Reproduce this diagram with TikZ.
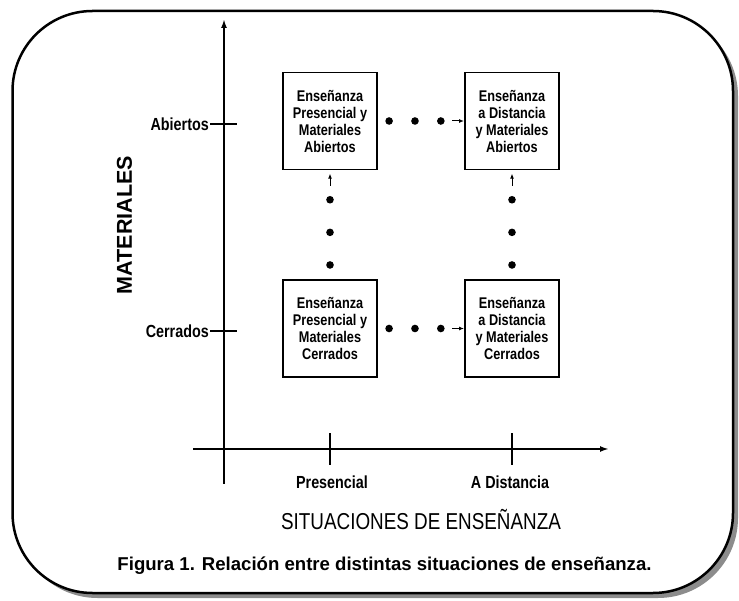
\documentclass[tikz,border=0pt]{standalone}
\usepackage{fontspec}
\setmainfont{Liberation Sans}
\newfontfamily\narrowfont[FakeStretch=0.82]{Liberation Sans}
\usepackage{tikz}
\usetikzlibrary{arrows.meta,decorations.markings}
\definecolor{sombra}{HTML}{8C8C8C}

\begin{document}
\begin{tikzpicture}[x=1pt, y=1pt,
            caja/.style={draw, line width=1.8pt, fill=white,
                    minimum width=94pt, minimum height=97pt, inner sep=0pt,
                    align=center, font=\narrowfont\bfseries\fontsize{15.5}{17}\selectfont},
            eje/.style={line width=1.8pt, -{Latex[length=9pt,width=6pt]}},
            marca/.style={line width=1.5pt},
            etiqueta/.style={font=\narrowfont\bfseries\fontsize{17.5}{20}\selectfont},
            puntos/.style={decoration={markings,
                    mark=at position 0.13 with {\fill (0,0) circle (3.8pt);},
                    mark=at position 0.43 with {\fill (0,0) circle (3.8pt);},
                    mark=at position 0.73 with {\fill (0,0) circle (3.8pt);},
                    mark=at position 0.86 with {\draw[line width=1pt, -{Latex[length=5pt,width=4pt]}] (0,0) -- (12pt,0);}},
                postaction=decorate}
        ]
        \useasboundingbox (0,0) rectangle (739,600);

        % Marco con sombra
        \fill[sombra, rounded corners=80pt] (17.5,2) rectangle (738,584);
        \draw[line width=2.5pt, fill=white, rounded corners=80pt] (12.5,7) rectangle (733,589);

        % Ejes
        \coordinate (ybot) at (224,116);
        \coordinate (ytop) at (224,581);
        \coordinate (xizq) at (193,151);
        \coordinate (xder) at (609,151);
        \draw[eje] (ybot) -- (ytop);
        \draw[eje] (xizq) -- (xder);

        % Marcas de los ejes
        \coordinate (tabi) at (210,476);
        \coordinate (tcer) at (210,269);
        \coordinate (tpre) at (330,135);
        \coordinate (tdis) at (512,135);
        \draw[marca] (tabi) -- ++(27,0);
        \draw[marca] (tcer) -- ++(27,0);
        \draw[marca] (tpre) -- ++(0,32);
        \draw[marca] (tdis) -- ++(0,32);

        \node[etiqueta, anchor=east, inner sep=1pt] (abi) at (tabi) {Abiertos};
        \node[etiqueta, anchor=east, inner sep=1pt] (cer) at (tcer) {Cerrados};
        \node[etiqueta] (pre) at (332,118) {Presencial};
        \node[etiqueta] (dis) at (510,118) {A Distancia};

        \node[rotate=90, font=\bfseries\fontsize{21.5}{26}\selectfont] (mat) at (124.5,375) {MATERIALES};
        \node[font=\narrowfont\fontsize{23}{27}\selectfont] (sit) at (421,80) {SITUACIONES DE ENSEÑANZA};
        \node[font=\bfseries\fontsize{18.6}{22}\selectfont] (fig) at (384.5,34)
        {Figura 1. Relación entre distintas situaciones de enseñanza.};

        % Cajas
        \node[caja] (pa) at (330,479)   {Enseñanza\\Presencial y\\Materiales\\Abiertos};
        \node[caja] (da) at (512,479)   {Enseñanza\\a Distancia\\y Materiales\\Abiertos};
        \node[caja] (pc) at (330,271.5) {Enseñanza\\Presencial y\\Materiales\\Cerrados};
        \node[caja] (dc) at (512,271.5) {Enseñanza\\a Distancia\\y Materiales\\Cerrados};

        \path[puntos] (pa) -- (da);
        \path[puntos] (pc) -- (dc);
        \path[puntos] (pc) -- (pa);
        \path[puntos] (dc) -- (da);
    \end{tikzpicture}
\end{document}
